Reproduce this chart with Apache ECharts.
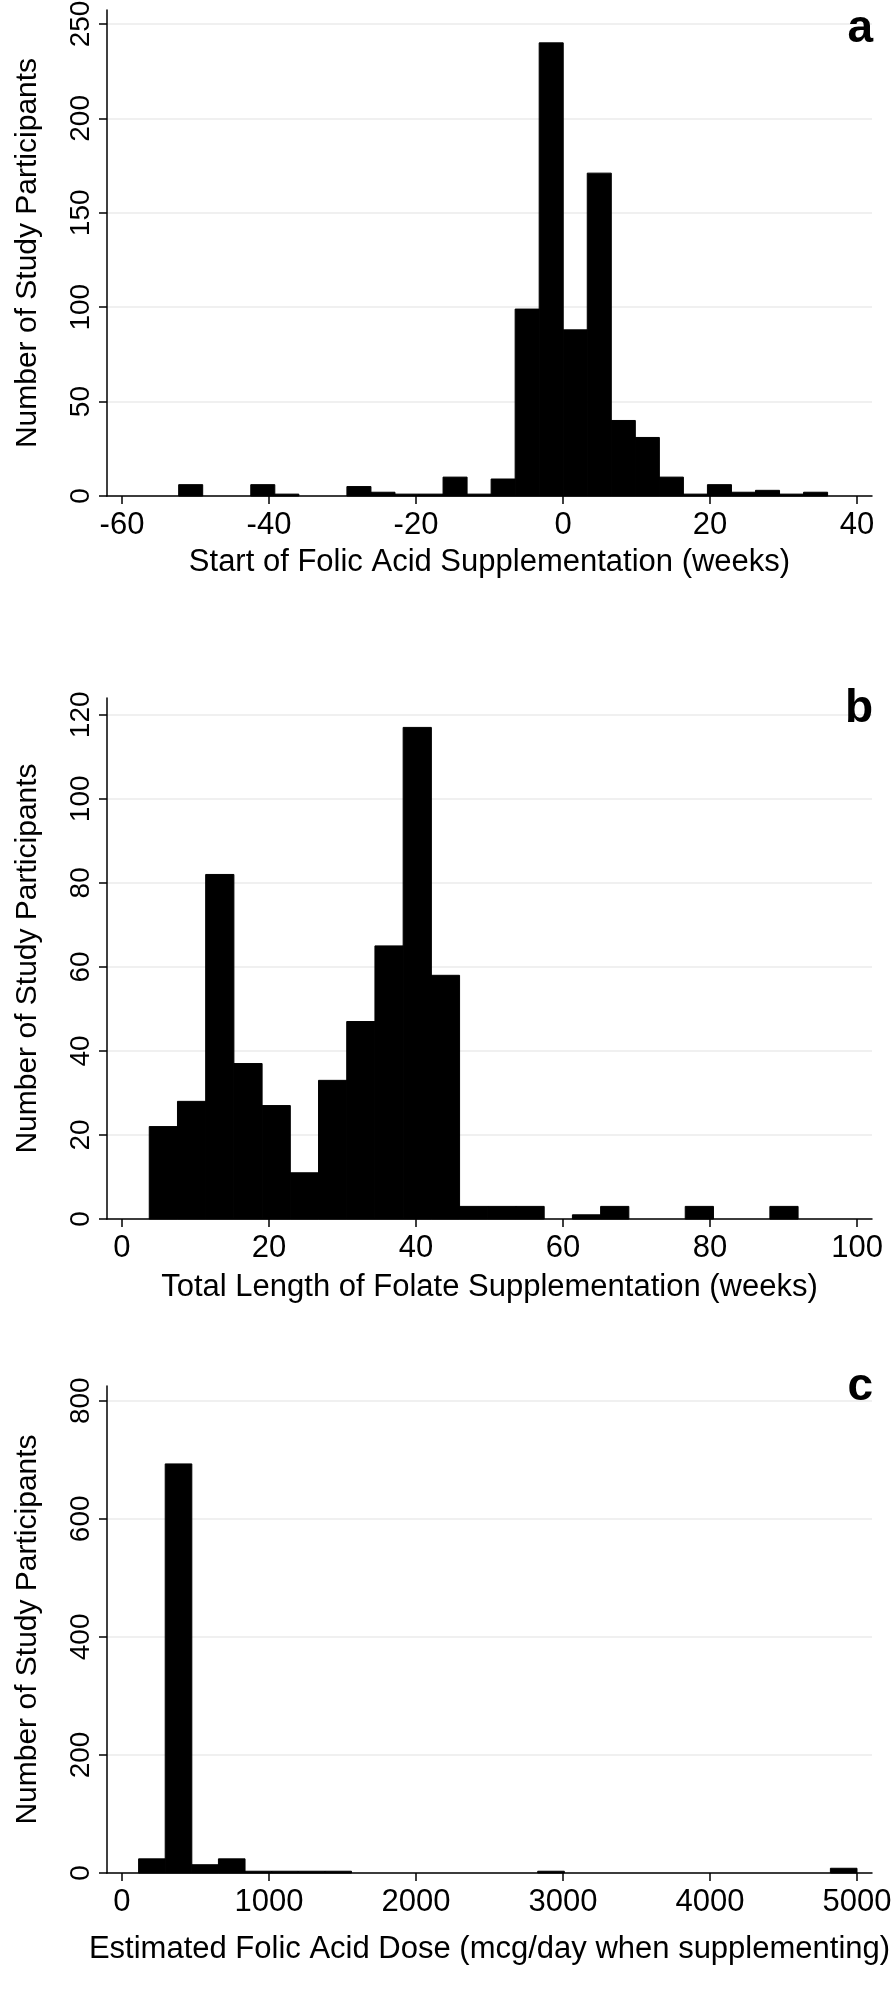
<!DOCTYPE html>
<html><head><meta charset="utf-8">
<script src="https://cdn.jsdelivr.net/npm/echarts@6/dist/echarts.min.js"></script>
<style>html,body{margin:0;padding:0;background:#fff}#c{width:896px;height:2015px}</style>
</head><body><div id="c"></div>
<script>
// ---- Panel a: Start of Folic Acid Supplementation (weeks) ----
const aBinStart = -52.29;
const aBinWidth = 3.27;
const aCounts = [6,0,0,6,1,0,0,5,2,1,1,10,1,9,99,240,88,171,40,31,10,1,6,2,3,1,2];
const aTicksX = [-60,-40,-20,0,20,40];
const aTicksY = [0,50,100,150,200,250];
// ---- Panel b: Total Length of Folate Supplementation (weeks) ----
const bBinStart = 3.71;
const bBinWidth = 3.838;
const bCounts = [22,28,82,37,27,11,33,47,65,117,58,3,3,3,0,1,3,0,0,3,0,0,3];
const bTicksX = [0,20,40,60,80,100];
const bTicksY = [0,20,40,60,80,100,120];
// ---- Panel c: Estimated Folic Acid Dose ----
const cBinStart = 113;
const cBinWidth = 181;
const cCounts = [24,693,14,24,3,3,3,3,0,0,0,0,0,0,0,3,0,0,0,0,0,0,0,0,0,0,8];
const cTicksX = [0,1000,2000,3000,4000,5000];
const cTicksY = [0,200,400,600,800];

const FONT = 'Liberation Sans, Arial, Helvetica, sans-serif';

function histSeries(idx, start, width, counts) {
  const data = counts.map((c, i) => [start + i * width, start + (i + 1) * width, c]);
  return {
    type: 'custom', xAxisIndex: idx, yAxisIndex: idx, data: data,
    encode: { x: [0, 1], y: 2 }, silent: true, animation: false,
    renderItem: function (params, api) {
      const x0 = api.value(0), x1 = api.value(1), v = api.value(2);
      if (!v) return null;
      const p0 = api.coord([x0, v]);
      const p1 = api.coord([x1, 0]);
      return { type: 'rect', shape: { x: p0[0], y: p0[1], width: p1[0] - p0[0], height: p1[1] - p0[1] },
               style: { fill: '#000', stroke: '#000', lineWidth: 1 } };
    }
  };
}

function plain(v) { return String(v); }

function xAxisCfg(idx, min, max, ticks, name, nameGap) {
  return {
    type: 'value', gridIndex: idx, min: min, max: max,
    axisLine: { show: true, onZero: false, lineStyle: { color: '#000', width: 1.5 } },
    axisTick: { show: true, length: 8, customValues: ticks, lineStyle: { color: '#000', width: 1.5 } },
    axisLabel: { customValues: ticks, formatter: plain, color: '#000', fontSize: 31, fontFamily: FONT, margin: 14 },
    splitLine: { show: false },
    name: name, nameLocation: 'middle', nameGap: nameGap, nameMoveOverlap: false,
    nameTextStyle: { color: '#000', fontSize: 31, fontFamily: FONT }
  };
}

function yAxisCfg(idx, max, ticks) {
  return {
    type: 'value', gridIndex: idx, min: 0, max: max,
    axisLine: { show: true, onZero: false, lineStyle: { color: '#000', width: 1.5 } },
    axisTick: { show: true, length: 8, customValues: ticks, lineStyle: { color: '#000', width: 1.5 } },
    axisLabel: { customValues: ticks, formatter: plain, color: '#000', fontSize: 28, fontFamily: FONT, margin: 12, rotate: 90 },
    splitLine: { show: true, lineStyle: { color: '#ebebeb', width: 1.5 } },
    name: 'Number of Study Participants', nameLocation: 'middle', nameGap: 64, nameRotate: 90,
    nameMoveOverlap: false,
    nameTextStyle: { color: '#000', fontSize: 30, fontFamily: FONT }
  };
}

const letterStyle = { fontSize: 46, fontWeight: 'bold', fontFamily: FONT, color: '#000' };

const option = {
  animation: false,
  backgroundColor: '#fff',
  title: [
    { text: 'a', right: 23, top: 6, padding: 0, textStyle: letterStyle },
    { text: 'b', right: 23, top: 686, padding: 0, textStyle: letterStyle },
    { text: 'c', right: 23, top: 1364, padding: 0, textStyle: letterStyle }
  ],
  grid: [
    { left: 107, right: 24, top: 10, height: 486, outerBoundsMode: 'none' },
    { left: 107, right: 24, top: 698, height: 521, outerBoundsMode: 'none' },
    { left: 107, right: 24, top: 1386, height: 487, outerBoundsMode: 'none' }
  ],
  xAxis: [
    xAxisCfg(0, -62.04, 42.04, aTicksX, 'Start of Folic Acid Supplementation (weeks)', 51),
    xAxisCfg(1, -2.04, 102.04, bTicksX, 'Total Length of Folate Supplementation (weeks)', 53),
    xAxisCfg(2, -102, 5102, cTicksX, 'Estimated Folic Acid Dose (mcg/day when supplementing)', 61)
  ],
  yAxis: [
    yAxisCfg(0, 257.4, aTicksY),
    yAxisCfg(1, 124, bTicksY),
    yAxisCfg(2, 825, cTicksY)
  ],
  series: [
    histSeries(0, aBinStart, aBinWidth, aCounts),
    histSeries(1, bBinStart, bBinWidth, bCounts),
    histSeries(2, cBinStart, cBinWidth, cCounts)
  ]
};

const chart = echarts.init(document.getElementById('c'), null, { renderer: 'canvas' });
chart.setOption(option);
</script>
</body></html>
